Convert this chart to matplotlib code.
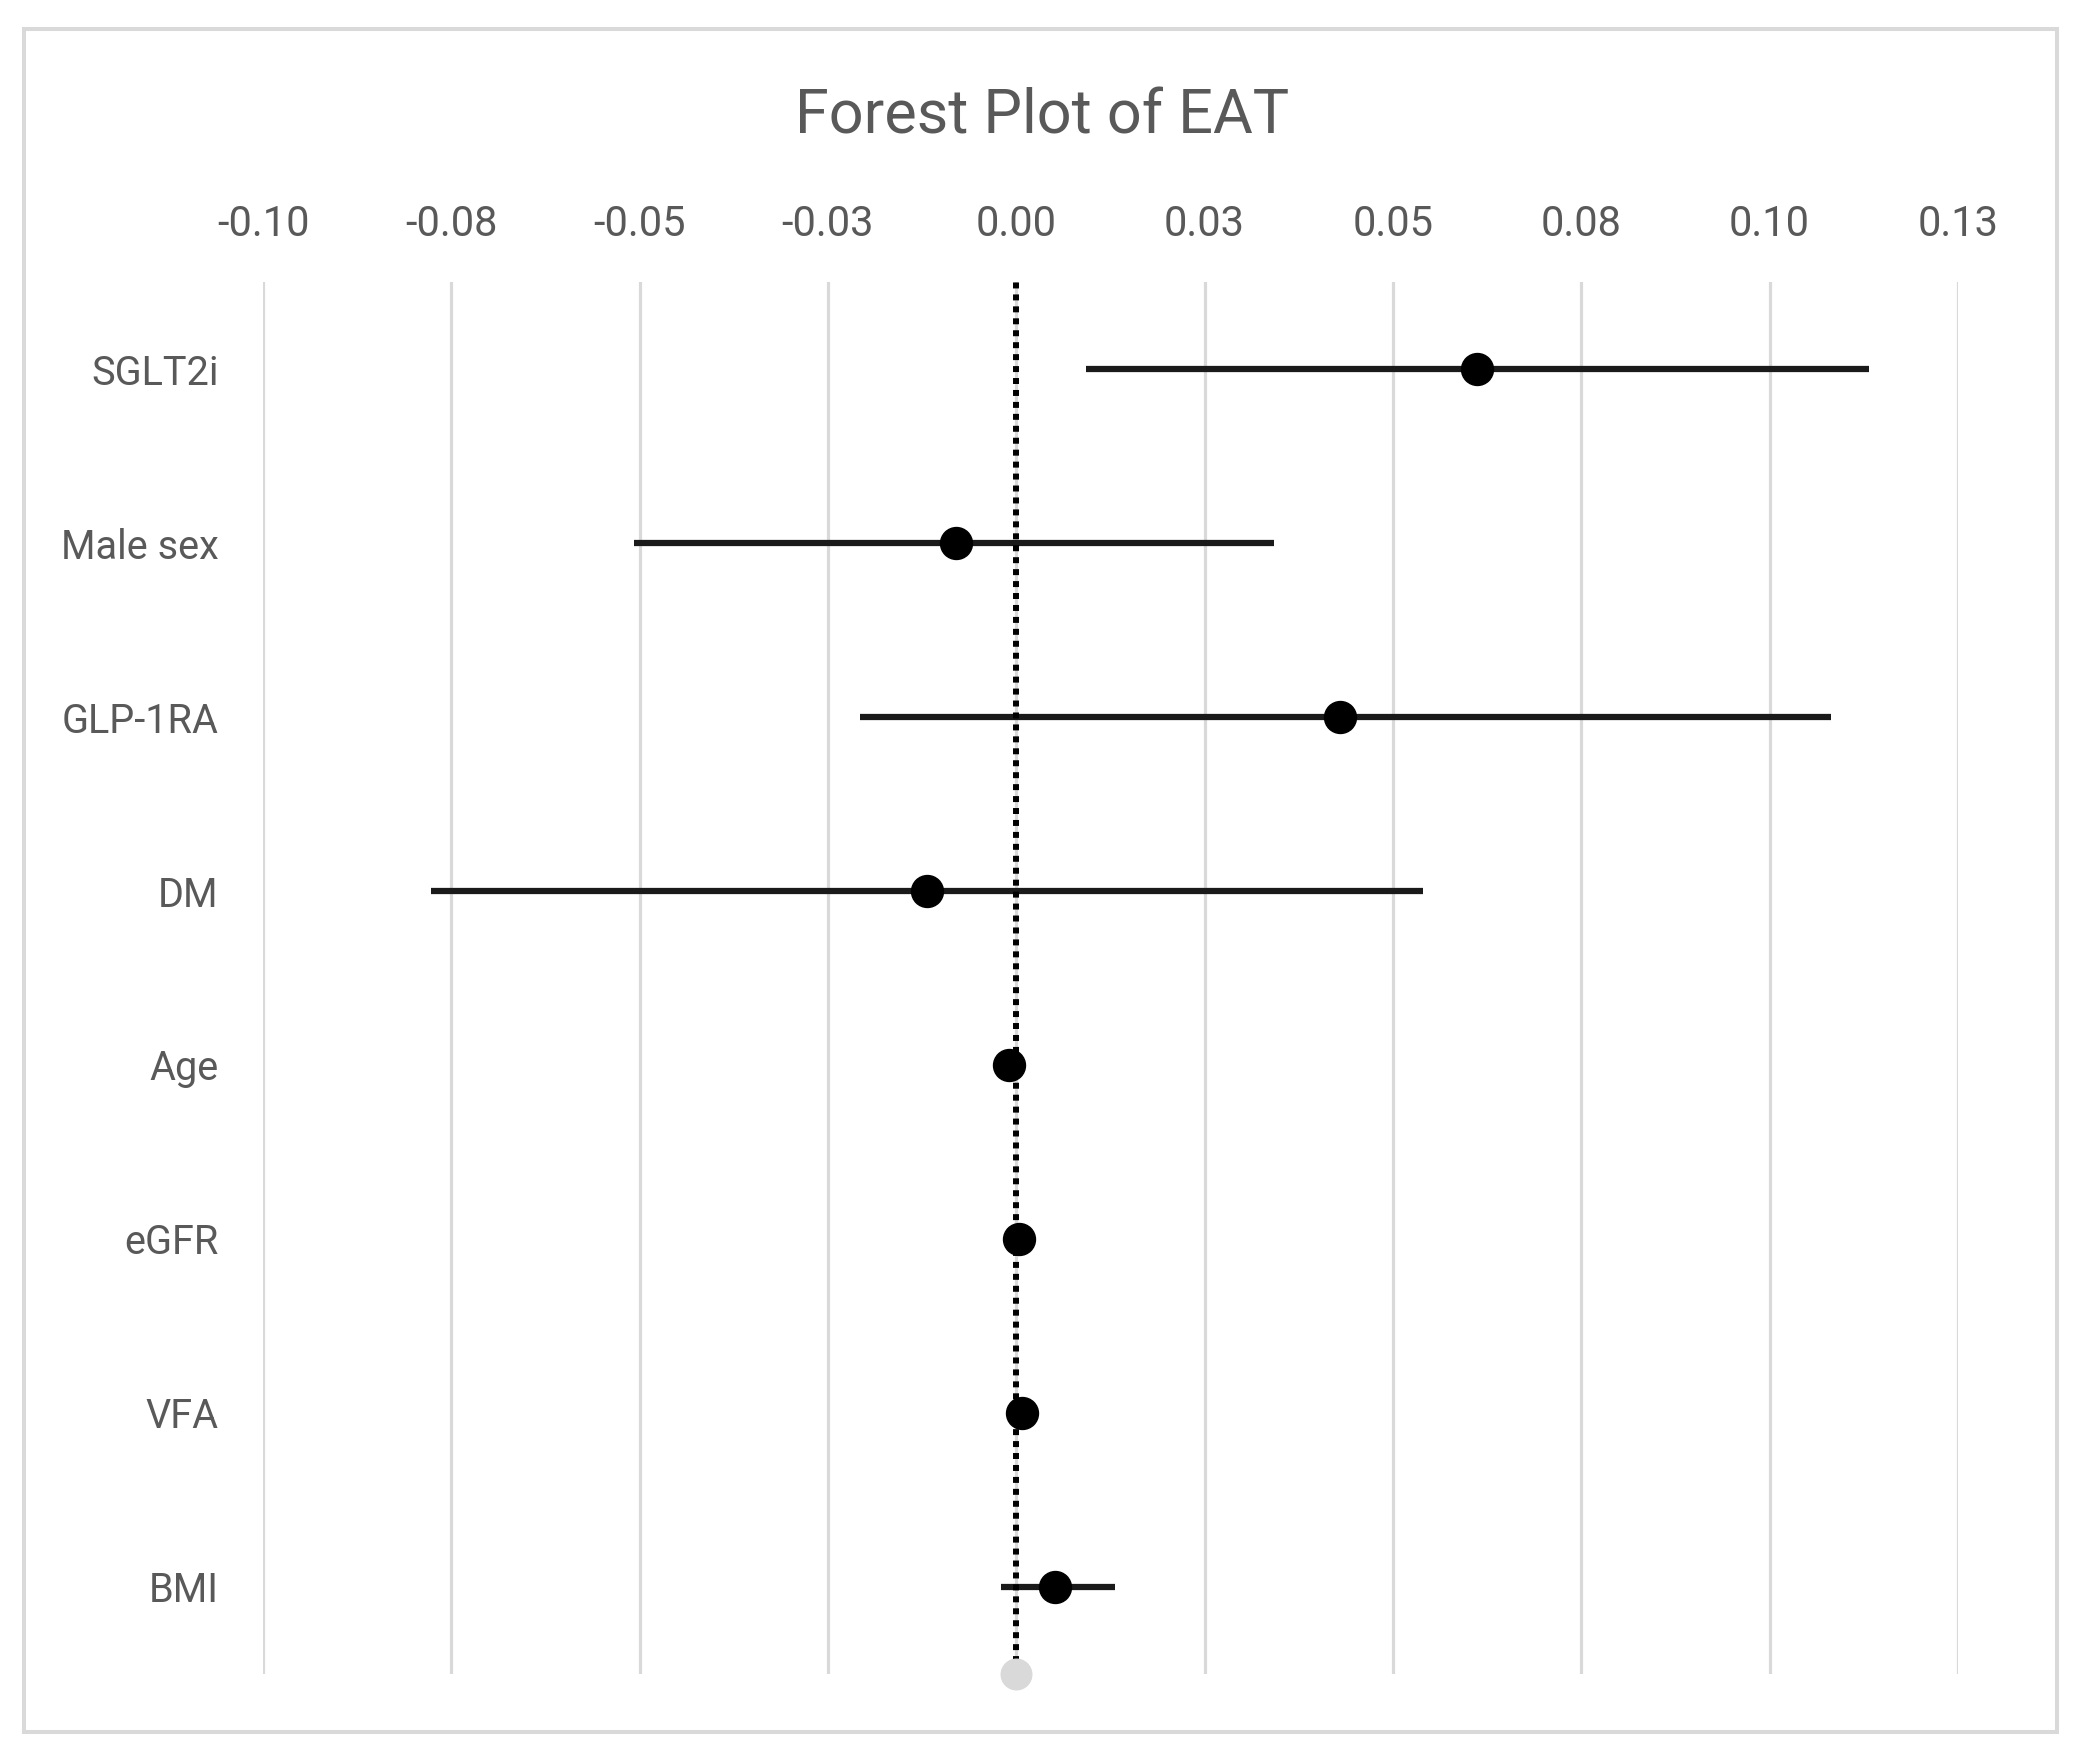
import matplotlib.pyplot as plt
import matplotlib.patches as patches

# data (top to bottom)
labels = ['SGLT2i', 'Male sex', 'GLP-1RA', 'DM', 'Age', 'eGFR', 'VFA', 'BMI']
estimate = [0.0611, -0.0080, 0.0430, -0.0118, -0.0010, 0.0004, 0.0007, 0.0052]
ci_low = [0.0092, -0.0507, -0.0208, -0.0777, -0.0013, 0.0002, 0.0005, -0.0020]
ci_high = [0.1132, 0.0342, 0.1081, 0.0540, -0.0007, 0.0006, 0.0009, 0.0131]

x_ticks = [-0.1, -0.075, -0.05, -0.025, 0.0, 0.025, 0.05, 0.075, 0.1, 0.125]
x_tick_labels = ['-0.10', '-0.08', '-0.05', '-0.03', '0.00', '0.03', '0.05', '0.08', '0.10', '0.13']

plt.rcParams['font.family'] = ['Roboto', 'DejaVu Sans']
txt = '#595959'
grid = '#d9d9d9'

fig = plt.figure(figsize=(20.84, 17.53), dpi=100)
ax = fig.add_axes([0.1262, 0.0451, 0.8133, 0.7940])

n = len(labels)
ypos = [n - i for i in range(n)]
xerr = [[e - lo for e, lo in zip(estimate, ci_low)],
        [hi - e for e, hi in zip(estimate, ci_high)]]

ax.errorbar(estimate, ypos, xerr=xerr, fmt='o', color='black', ecolor='#1a1a1a',
            elinewidth=4.5, capsize=0, markersize=23, zorder=3)

# reference line at zero
ax.plot([0, 0], [0.5, n + 0.5], color='black', lw=4.3, linestyle=(0, (1, 1)), zorder=4)
ax.plot([0], [0.5], 'o', color=grid, markersize=22, zorder=5, clip_on=False)

ax.set_xlim(-0.1, 0.125)
ax.set_ylim(0.5, n + 0.5)
ax.set_xticks(x_ticks)
ax.set_xticklabels(x_tick_labels)
ax.set_yticks(ypos)
ax.set_yticklabels(labels)
ax.xaxis.tick_top()
ax.tick_params(axis='x', length=0, pad=27, labelsize=30, labelcolor=txt)
ax.tick_params(axis='y', length=0, pad=32, labelsize=28.5, labelcolor=txt)
ax.grid(axis='x', color=grid, lw=2.3)
ax.set_axisbelow(True)
for s in ax.spines.values():
    s.set_visible(False)

fig.text(0.5, 0.9241, 'Forest Plot of EAT', ha='center', va='baseline', fontsize=44, color=txt)

fig.patches.append(patches.Rectangle((0.0115, 0.012), 0.9755, 0.9715, transform=fig.transFigure,
                                     fill=False, edgecolor=grid, lw=2.9))

fig.savefig('out.png', dpi=100)
